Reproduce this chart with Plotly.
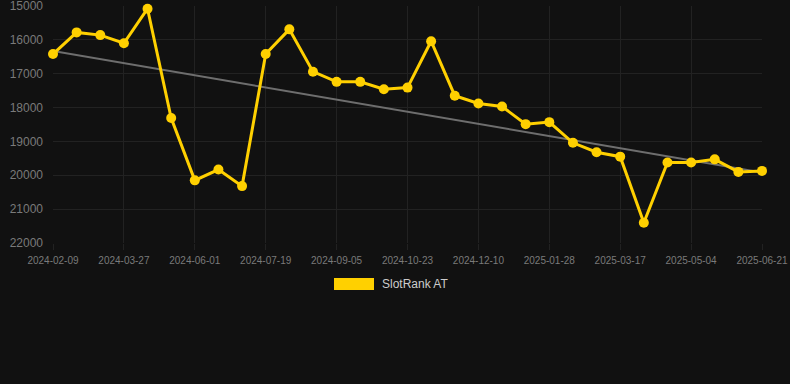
import plotly.graph_objects as go

dates = [
    "2024-02-09", "2024-02-25", "2024-03-12",
    "2024-03-27", "2024-04-18", "2024-05-10",
    "2024-06-01", "2024-06-17", "2024-07-03",
    "2024-07-19", "2024-08-04", "2024-08-20",
    "2024-09-05", "2024-09-21", "2024-10-07",
    "2024-10-23", "2024-11-08", "2024-11-24",
    "2024-12-10", "2024-12-26", "2025-01-12",
    "2025-01-28", "2025-02-13", "2025-03-01",
    "2025-03-17", "2025-04-02", "2025-04-18",
    "2025-05-04", "2025-05-20", "2025-06-05",
    "2025-06-21",
]
rank = [
    16420, 15780, 15860, 16100, 15080, 18310, 20150, 19830, 20320,
    16420, 15690, 16940, 17240, 17240, 17460, 17410, 16040, 17650,
    17880, 17970, 18490, 18430, 19040, 19320, 19450, 21400, 19620,
    19620, 19530, 19900, 19870,
]
trend_dates = [dates[0], dates[-1]]
trend_values = [16330, 19915]
tick_labels = dates[::3]
y_min, y_max, y_step = 15000, 22000, 1000
series_name = "SlotRank AT"

gold = "#FFD000"
bg = "#111111"

fig = go.Figure()
fig.add_trace(go.Scatter(
    x=trend_dates, y=trend_values, mode="lines",
    line=dict(color="#6e6e6e", width=2), showlegend=False, hoverinfo="skip",
))
fig.add_trace(go.Scatter(
    x=dates, y=rank, mode="lines+markers", name=series_name,
    line=dict(color=gold, width=3),
    marker=dict(color=gold, size=10),
    showlegend=False, cliponaxis=False,
))

fig.update_layout(
    width=790, height=384,
    paper_bgcolor=bg, plot_bgcolor=bg,
    margin=dict(l=53, r=28, t=6, b=141, autoexpand=False),
    font=dict(family="Arial, Liberation Sans, sans-serif"),
    xaxis=dict(
        type="category", categoryorder="array", categoryarray=dates,
        range=[0, len(dates) - 1],
        tickvals=tick_labels, ticktext=tick_labels,
        tickfont=dict(size=10, color="#7a7a7a"),
        showgrid=True, gridcolor="#222222", gridwidth=1,
        zeroline=False, showline=False,
        ticks="outside", ticklen=6, tickcolor="#222222",
        ticklabelstandoff=2, ticklabeloverflow="allow", automargin=False,
    ),
    yaxis=dict(
        range=[y_max, y_min],
        tickmode="linear", tick0=y_min, dtick=y_step,
        tickformat="d",
        tickfont=dict(size=12, color="#7a7a7a"),
        showgrid=True, gridcolor="#222222", gridwidth=1,
        zeroline=False, showline=False,
        ticklabelstandoff=9, ticklabeloverflow="allow", automargin=False,
    ),
    shapes=[dict(
        type="rect", xref="paper", yref="paper",
        x0=(334 - 53) / 709, x1=(374 - 53) / 709,
        y0=(243 - 290) / 237, y1=(243 - 278) / 237,
        fillcolor=gold, line=dict(width=0),
    )],
    annotations=[dict(
        text=series_name, xref="paper", yref="paper",
        x=(380 - 53) / 709, y=(243 - 284) / 237,
        xanchor="left", yanchor="middle", showarrow=False,
        font=dict(size=12, color="#cccccc"),
    )],
)

fig.write_html(
    "out.html",
    config={"displayModeBar": False},
    post_script="document.body.style.margin='0';document.body.style.background='#111111';",
)
